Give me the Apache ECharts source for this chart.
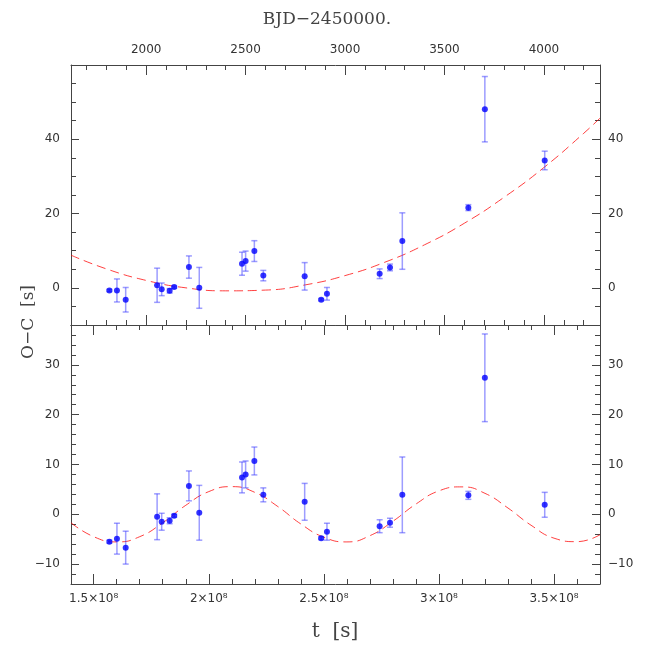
<!DOCTYPE html>
<html>
<head>
<meta charset="utf-8">
<script src="https://cdn.jsdelivr.net/npm/echarts@6/dist/echarts.min.js"></script>
<style>
  html, body { margin: 0; padding: 0; background: #fff; }
</style>
</head>
<body>
<div style="width:654px;height:654px;" id="oc_chart"></div>
<script>
// observed epochs (BJD-2450000) and O-C values
const bjd = [1815, 1853, 1897, 2055, 2078, 2118, 2141, 2215, 2267, 2482, 2500, 2544, 2589, 2797, 2880, 2909, 3174, 3226, 3288, 3620, 3703, 4004];
const ocQuad = [-0.7, -0.7, -3.2, 0.7, -0.4, -0.8, 0.2, 5.6, 0.0, 6.5, 7.2, 9.9, 3.3, 3.1, -3.2, -1.6, 3.8, 5.5, 12.6, 21.6, 48.1, 34.3];
const ocResid = [-5.5, -4.9, -6.7, -0.5, -1.5, -1.3, -0.3, 5.7, 0.3, 7.4, 8.0, 10.7, 3.9, 2.5, -4.8, -3.5, -2.4, -1.7, 3.9, 3.8, 27.4, 1.9];
const ocErr = [0.3, 3.1, 3.3, 4.6, 1.7, 0.6, 0.3, 3.0, 5.5, 3.1, 2.7, 2.8, 1.4, 3.7, 0.3, 1.7, 1.3, 0.9, 7.6, 0.8, 8.8, 2.5];

// dashed model curves
const quadBjd = [1622, 1800, 2000, 2200, 2400, 2600, 2800, 3000, 3200, 3400, 3600, 3800, 4000, 4200, 4282];
const quadFit = [8.8, 5.1, 2.0, 0.0, -0.8, -0.6, 0.8, 3.3, 6.9, 11.6, 17.4, 24.4, 32.4, 41.6, 45.7];
const sineT = [1.4014, 1.5, 1.6, 1.7, 1.8, 1.9, 2.0, 2.1, 2.2, 2.3, 2.4, 2.5, 2.6, 2.7, 2.8, 2.9, 3.0, 3.1, 3.2, 3.3, 3.4, 3.5, 3.6, 3.7]; // x 1e8 s
const sineFit = [-1.7, -4.5, -5.55, -4.5, -1.7, 1.8, 4.55, 5.55, 4.4, 1.55, -1.95, -4.6, -5.55, -4.3, -1.4, 2.05, 4.7, 5.5, 4.2, 1.25, -2.2, -4.8, -5.5, -4.1];

const bjdMin = 1622, bjdMax = 4282;
const SEC = 86400;

const axisColor = "#444";
const labelFont = { fontFamily: "DejaVu Sans", fontSize: 12, color: "#333" };
const minus = v => String(v).replace("-", "\u2212");

function xAx(grid, pos, min, max, labels, fmt) {
  return {
    type: "value", gridIndex: grid, position: pos, min: min, max: max, splitNumber: 5,
    axisLine: { show: true, onZero: false, lineStyle: { color: axisColor, width: 1 } },
    axisTick: { show: true, inside: true, length: 10, lineStyle: { color: axisColor } },
    minorTick: { show: true, splitNumber: 5, length: 5, lineStyle: { color: axisColor } },
    splitLine: { show: false },
    axisLabel: Object.assign({ show: labels, margin: 9, showMinLabel: false, showMaxLabel: false, formatter: fmt || (v => String(v)) }, labelFont)
  };
}
function yAx(grid, pos, min, max, split, minor) {
  return {
    type: "value", gridIndex: grid, position: pos, min: min, max: max, splitNumber: split,
    axisLine: { show: true, onZero: false, lineStyle: { color: axisColor, width: 1 } },
    axisTick: { show: true, inside: true, length: 8, lineStyle: { color: axisColor } },
    minorTick: { show: true, splitNumber: minor, length: 5, lineStyle: { color: axisColor } },
    splitLine: { show: false },
    axisLabel: Object.assign({ show: true, margin: pos === "left" ? 11 : 8, showMinLabel: false, showMaxLabel: false, formatter: minus }, labelFont)
  };
}

function errBars(params, api) {
  const x = api.value(0), lo = api.value(1), hi = api.value(2);
  const p1 = api.coord([x, hi]);
  const p2 = api.coord([x, lo]);
  const w = 3;
  const style = { stroke: "rgba(60,60,255,0.5)", lineWidth: 1.5, fill: null };
  return {
    type: "group",
    children: [
      { type: "line", shape: { x1: p1[0], y1: p1[1], x2: p2[0], y2: p2[1] }, style: style },
      { type: "line", shape: { x1: p1[0] - w, y1: p1[1], x2: p1[0] + w, y2: p1[1] }, style: style },
      { type: "line", shape: { x1: p2[0] - w, y1: p2[1], x2: p2[0] + w, y2: p2[1] }, style: style }
    ]
  };
}

const tObs = bjd.map(b => b * SEC);
const topPts = bjd.map((b, i) => [b, ocQuad[i]]);
const topErr = bjd.map((b, i) => [b, ocQuad[i] - ocErr[i], ocQuad[i] + ocErr[i]]);
const botPts = tObs.map((t, i) => [t, ocResid[i]]);
const botErr = tObs.map((t, i) => [t, ocResid[i] - ocErr[i], ocResid[i] + ocErr[i]]);
const quadLine = quadBjd.map((b, i) => [b, quadFit[i]]);
const sineLine = sineT.map((t, i) => [t * 1e8, sineFit[i]]);

const dashStyle = { color: "rgba(255,0,0,0.75)", width: 1, type: [9, 5] };

const option = {
  animation: false,
  backgroundColor: "#fff",
  grid: [
    { left: 71, right: 54, top: 65, height: 260 },
    { left: 71, right: 54, top: 325, height: 259 }
  ],
  xAxis: [
    xAx(0, "top", bjdMin, bjdMax, true),
    xAx(0, "bottom", bjdMin, bjdMax, false),
    xAx(1, "bottom", bjdMin * SEC, bjdMax * SEC, true, v => +(v / 1e8).toFixed(2) + "\u00d710\u2078"),
    xAx(1, "top", bjdMin * SEC, bjdMax * SEC, false)
  ],
  yAxis: [
    yAx(0, "left", -10, 60, 4, 4),
    yAx(0, "right", -10, 60, 4, 4),
    yAx(1, "left", -14, 38, 5, 5),
    yAx(1, "right", -14, 38, 5, 5)
  ],
  graphic: [
    { type: "text", left: "center", top: 11, style: { text: "BJD\u22122450000.", font: "17px 'DejaVu Serif'", fill: "#444" } },
    { type: "text", x: 335, y: 632, style: { text: "t  [s]", font: "20px 'DejaVu Serif'", fill: "#444", align: "center", verticalAlign: "middle" } },
    { type: "text", x: 29, y: 322, rotation: Math.PI / 2, style: { text: "O\u2212C  [s]", font: "17px 'DejaVu Serif'", fill: "#444", align: "center", verticalAlign: "middle" } }
  ],
  series: [
    { type: "line", xAxisIndex: 0, yAxisIndex: 0, data: quadLine, smooth: true, showSymbol: false, lineStyle: dashStyle, z: 1 },
    { type: "custom", xAxisIndex: 0, yAxisIndex: 0, data: topErr, renderItem: errBars, encode: { x: 0, y: [1, 2] }, z: 2 },
    { type: "scatter", xAxisIndex: 0, yAxisIndex: 0, data: topPts, symbol: "circle", symbolSize: 6, itemStyle: { color: "#0000ff" }, z: 3 },
    { type: "line", xAxisIndex: 2, yAxisIndex: 2, data: sineLine, smooth: true, showSymbol: false, lineStyle: dashStyle, z: 1 },
    { type: "custom", xAxisIndex: 2, yAxisIndex: 2, data: botErr, renderItem: errBars, encode: { x: 0, y: [1, 2] }, z: 2 },
    { type: "scatter", xAxisIndex: 2, yAxisIndex: 2, data: botPts, symbol: "circle", symbolSize: 6, itemStyle: { color: "#0000ff" }, z: 3 }
  ]
};

const chart = echarts.init(document.getElementById("oc_chart"));
chart.setOption(option);
</script>
</body>
</html>
